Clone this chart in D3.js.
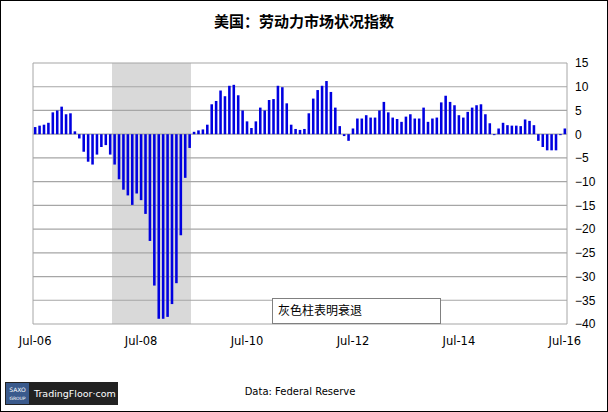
<!DOCTYPE html>
<html><head><meta charset="utf-8">
<script src="https://cdn.jsdelivr.net/npm/d3@7"></script>
<style>body{margin:0;background:#fff}svg{display:block}</style>
</head><body>
<svg id="chart" width="608" height="412"></svg>
<script>
// monthly LMCI values, Jul-06 .. Jul-16
const values = [
  1.5,1.8,2,2.4,4.6,5,5.8,4.2,4.4,0.6,-0.9,-3.7,-5.8,-6.4,-4.3,-2.7,-2.3,-4.3,
  -6.4,-9.5,-11.7,-12.9,-14.9,-12.5,-13.9,-16.8,-22.5,-31.9,-38.9,-38.9,-38.5,-35.8,-31.4,-21.3,-9.2,-2.9,
  0.5,0.8,1,2,6.3,7,9.2,8,10.2,
  10.4,8.2,5,2.7,1.3,2.7,5.6,5,7.2,7.4,10.2,9.9,6.5,2,1.1,0.9,1.1,4.4,7.5,9.3,10.2,11.2,8.9,5.6,1.7,-0.4,-1.4,1.2,3.3,3.3,4,3.5,3.5,5,6.8,4.6,3.5,3.2,
  2.6,3.7,4.2,3.3,3.3,5.6,2.6,3.3,3.5,6.7,8.1,6.8,6.1,4,3.5,4.7,5.6,6.1,6.3,4.2,2.3,-0.2,1.2,2.4,1.9,1.8,1.8,1.7,3.1,2.8,1.9,-1.4,-2.7,-3.4,-3.4,-3.4,-0.2,1.2
];
const xLabels = ["Jul-06","Jul-08","Jul-10","Jul-12","Jul-14","Jul-16"];
const yTicks = [15,10,5,0,-5,-10,-15,-20,-25,-30,-35,-40];
const recession = [18, 35]; // bar index range (Dec-07 .. May-09)

const svg = d3.select("#chart");
const pL = 33, pR = 567, pT = 63, pB = 324;

svg.append("rect").attr("x",0.5).attr("y",0.5).attr("width",607).attr("height",411)
  .attr("fill","#fff").attr("stroke","#000");

svg.append("text").attr("x",304).attr("y",27).attr("text-anchor","middle")
  .attr("font-family","Noto Sans CJK SC").attr("font-weight","bold").attr("font-size",15)
  .text("美国：劳动力市场状况指数");

const x = d3.scaleBand().domain(d3.range(values.length)).range([pL, pR]).paddingInner(0.42).paddingOuter(0.2);
const y = d3.scaleLinear().domain([-40, 15]).range([pB, pT]);

// recession shading
svg.append("rect")
  .attr("x", x(recession[0]) - x.step()*0.3)
  .attr("width", x(recession[1]) + x.step()*0.9 - x(recession[0]))
  .attr("y", pT).attr("height", pB - pT).attr("fill","#d9d9d9");

// grid
svg.append("g").selectAll("line").data(yTicks).join("line")
  .attr("x1",pL).attr("x2",pR).attr("y1",d=>y(d)).attr("y2",d=>y(d))
  .attr("stroke","#a6a6a6").attr("stroke-width",1.2);
svg.append("line").attr("x1",pL).attr("x2",pL).attr("y1",pT).attr("y2",pB).attr("stroke","#a6a6a6");
svg.append("line").attr("x1",pR).attr("x2",pR).attr("y1",pT).attr("y2",pB).attr("stroke","#a6a6a6");

// bars
svg.append("g").selectAll("rect").data(values).join("rect")
  .attr("x",(d,i)=>x(i)).attr("width",x.bandwidth())
  .attr("y",d=>y(Math.max(0,d))).attr("height",d=>Math.abs(y(d)-y(0)))
  .attr("fill","#0000e0");

// right axis
const yAxis = svg.append("g").attr("transform",`translate(${pR+6},0)`)
  .call(d3.axisRight(y).tickValues(yTicks).tickSize(0).tickPadding(2));
yAxis.select(".domain").remove();
yAxis.selectAll("text").attr("font-family","Liberation Sans").attr("font-size",12).attr("fill","#000");

// bottom labels
svg.append("g").selectAll("text").data(xLabels).join("text")
  .attr("x",(d,i)=>x(i*24)+x.bandwidth()/2).attr("y",345).attr("text-anchor","middle")
  .attr("font-family","DejaVu Sans").attr("font-size",11.5).text(d=>d);

// legend box
svg.append("rect").attr("x",272.5).attr("y",298.5).attr("width",168).attr("height",25)
  .attr("fill","#fff").attr("stroke","#808080");
svg.append("text").attr("x",278).attr("y",315).attr("font-family","Noto Sans CJK SC").attr("font-size",12)
  .text("灰色柱表明衰退");

// footer
svg.append("text").attr("x",300).attr("y",395).attr("text-anchor","middle")
  .attr("font-family","DejaVu Sans").attr("font-size",10).text("Data: Federal Reserve");
svg.append("rect").attr("x",5).attr("y",382).attr("width",113).attr("height",23).attr("fill","#222");
svg.append("rect").attr("x",6).attr("y",383).attr("width",23).attr("height",21).attr("fill","#3a5a8c");
svg.append("text").attr("x",17.5).attr("y",392).attr("text-anchor","middle").attr("fill","#fff")
  .attr("font-family","DejaVu Sans").attr("font-size",6).text("SAXO");
svg.append("text").attr("x",17.5).attr("y",400).attr("text-anchor","middle").attr("fill","#fff")
  .attr("font-family","DejaVu Sans").attr("font-size",4.5).text("GROUP");
svg.append("text").attr("x",34).attr("y",397).attr("fill","#fff")
  .attr("font-family","DejaVu Sans").attr("font-size",9.5).text("TradingFloor·com");
</script>
</body></html>
